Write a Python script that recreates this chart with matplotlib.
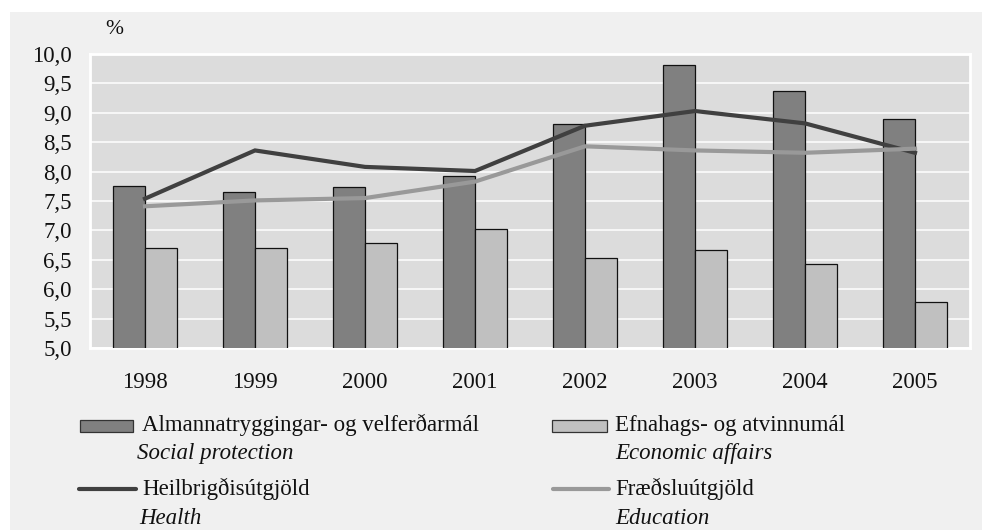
import matplotlib
matplotlib.use("Agg")
import matplotlib.pyplot as plt
import numpy as np
from matplotlib.patches import Rectangle
from matplotlib.lines import Line2D

years = ["1998", "1999", "2000", "2001", "2002", "2003", "2004", "2005"]
social_protection = [7.76, 7.65, 7.73, 7.93, 8.81, 9.82, 9.37, 8.89]
economic_affairs = [6.70, 6.70, 6.78, 7.02, 6.53, 6.67, 6.43, 5.79]
health = [7.54, 8.36, 8.08, 8.01, 8.78, 9.03, 8.82, 8.32]
education = [7.41, 7.51, 7.55, 7.83, 8.43, 8.36, 8.32, 8.39]
yticks = [5.0, 5.5, 6.0, 6.5, 7.0, 7.5, 8.0, 8.5, 9.0, 9.5, 10.0]

plt.rcParams['font.family'] = ['Liberation Serif', 'DejaVu Serif']

W, H = 982, 530
fig = plt.figure(figsize=(W / 100, H / 100), dpi=100, facecolor="white")

# outer light-gray panel
fig.patches.append(Rectangle((10 / W, 0), 1 - 10 / W, (H - 12) / H,
                             transform=fig.transFigure, facecolor="#f0f0f0",
                             edgecolor="none", zorder=-10))

ax = fig.add_axes([90 / W, 1 - 348 / H, (970 - 90) / W, (348 - 54) / H])
ax.set_facecolor("#dcdcdc")

x = np.arange(len(years))
w = 0.29
ax.bar(x - w / 2, social_protection, width=w, color="#808080",
       edgecolor="#111111", linewidth=0.9, zorder=3)
ax.bar(x + w / 2, economic_affairs, width=w, color="#c0c0c0",
       edgecolor="#111111", linewidth=0.9, zorder=3)
ax.plot(x, health, color="#404040", linewidth=3.0, zorder=4,
        solid_joinstyle="miter")
ax.plot(x, education, color="#999999", linewidth=3.0, zorder=5,
        solid_joinstyle="miter")

ax.set_xlim(-0.5, len(years) - 0.5)
ax.set_ylim(5.0, 10.0)
ax.set_yticks(yticks)
ax.set_yticklabels([f"{v:.1f}".replace(".", ",") for v in yticks])
ax.set_xticks(x)
ax.set_xticklabels(years)
ax.tick_params(axis="both", length=0, labelsize=16.5, colors="#111111")
ax.tick_params(axis="y", pad=13)
ax.tick_params(axis="x", pad=17)
ax.yaxis.grid(True, color="white", linewidth=1.1, zorder=0)
ax.set_axisbelow(True)
for s in ax.spines.values():
    s.set_color("white")
    s.set_linewidth(2)

fig.text(105 / W, 1 - 30 / H, "%", fontsize=15.5, va="center", ha="left",
         color="#111111")

# legend (manual layout)
def fy(py):
    return 1 - py / H

def patch(x0, x1, y0, y1, color):
    fig.patches.append(Rectangle((x0 / W, fy(y1)), (x1 - x0) / W, (y1 - y0) / H,
                                 transform=fig.transFigure, facecolor=color,
                                 edgecolor="#333333", linewidth=0.9))

def line(x0, x1, y, color):
    fig.lines.append(Line2D([x0 / W, x1 / W], [fy(y), fy(y)],
                            transform=fig.transFigure, color=color,
                            linewidth=3.0, solid_capstyle="round"))

fs = 16.5
patch(80, 133, 420, 432, "#808080")
fig.text(142 / W, fy(425), "Almannatryggingar- og velferðarmál", fontsize=fs,
         va="center", ha="left", color="#111111")
fig.text(137 / W, fy(453), "Social protection", fontsize=fs, style="italic",
         va="center", ha="left", color="#111111")
line(79, 136, 489, "#404040")
fig.text(142 / W, fy(489), "Heilbrigðisútgjöld", fontsize=fs,
         va="center", ha="left", color="#111111")
fig.text(139 / W, fy(518), "Health", fontsize=fs, style="italic",
         va="center", ha="left", color="#111111")

patch(552, 607, 420, 432, "#c0c0c0")
fig.text(615 / W, fy(425), "Efnahags- og atvinnumál", fontsize=fs,
         va="center", ha="left", color="#111111")
fig.text(615 / W, fy(453), "Economic affairs", fontsize=fs, style="italic",
         va="center", ha="left", color="#111111")
line(553, 609, 489, "#999999")
fig.text(615 / W, fy(489), "Fræðsluútgjöld", fontsize=fs,
         va="center", ha="left", color="#111111")
fig.text(615 / W, fy(518), "Education", fontsize=fs, style="italic",
         va="center", ha="left", color="#111111")

fig.savefig("out.png", dpi=100, facecolor=fig.get_facecolor())
